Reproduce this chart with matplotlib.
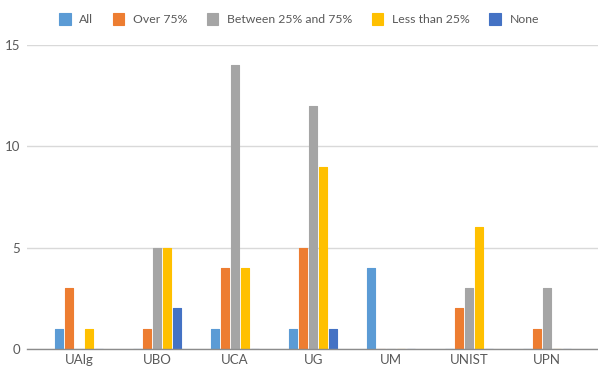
import matplotlib.pyplot as plt
import numpy as np

# Response counts per institution, one list per answer group
institutions = ["UAlg", "UBO", "UCA", "UG", "UM", "UNIST", "UPN"]
all_vals = [1, 0, 1, 1, 4, 0, 0]
over_75 = [3, 1, 4, 5, 0, 2, 1]
between_25_75 = [0, 5, 14, 12, 0, 3, 3]
less_25 = [1, 5, 4, 9, 0, 6, 0]
none_vals = [0, 2, 0, 1, 0, 0, 0]

series = [
    ("All", all_vals, "#5B9BD5"),
    ("Over 75%", over_75, "#ED7D31"),
    ("Between 25% and 75%", between_25_75, "#A5A5A5"),
    ("Less than 25%", less_25, "#FFC000"),
    ("None", none_vals, "#4472C4"),
]

plt.rcParams["font.family"] = ["Lato", "DejaVu Sans"]
text_color = "#595959"

fig = plt.figure(figsize=(5.98, 3.67), dpi=100)
ax = fig.add_axes([27 / 598, 18 / 367, 571 / 598, 304 / 367])

x = np.arange(len(institutions))
slot = 0.128
width = 0.1
for i, (name, vals, color) in enumerate(series):
    bars = ax.bar(x + (i - 2) * slot, vals, width=width, color=color,
                  edgecolor=color, linewidth=0.8, label=name, zorder=3)
    for b in bars:
        b.set_joinstyle("round")

ax.set_xlim(-0.667, 6.65)
ax.set_ylim(0, 15)
ax.set_yticks([0, 5, 10, 15])
ax.set_xticks(x)
ax.set_xticklabels(institutions)
ax.grid(axis="y", color="#D9D9D9", linewidth=1, zorder=0)
ax.tick_params(axis="both", length=0, labelsize=9.5, colors=text_color)
ax.tick_params(axis="y", pad=5)
ax.tick_params(axis="x", pad=3.5)
for side in ("top", "right", "left"):
    ax.spines[side].set_visible(False)
ax.spines["bottom"].set_color("#8C8C8C")
ax.spines["bottom"].set_linewidth(1)
ax.spines["bottom"].set_zorder(4)

leg = fig.legend(loc="center", bbox_to_anchor=(0.5, 1 - 19 / 367), ncol=5,
                 frameon=False, fontsize=8.8, handlelength=0.95,
                 handleheight=1.1, handletextpad=0.7, columnspacing=1.6)
for t in leg.get_texts():
    t.set_color(text_color)

fig.savefig("out.png", dpi=100)
